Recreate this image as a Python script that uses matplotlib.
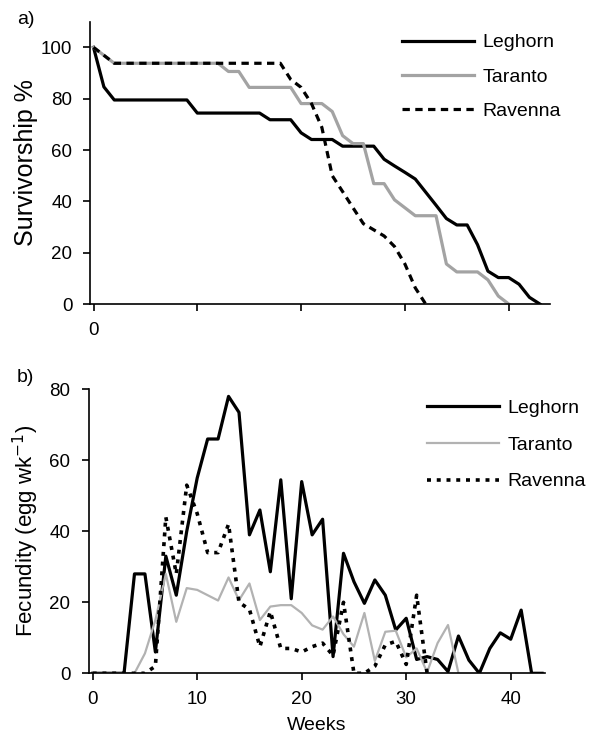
import matplotlib
matplotlib.use('Agg')
import matplotlib.pyplot as plt
import numpy as np

plt.rcParams['font.family'] = ['Liberation Sans', 'DejaVu Sans']

# ---------------- data ----------------
series_names = ['Leghorn', 'Taranto', 'Ravenna']

# a) survivorship (%) by week
surv_leghorn = [100, 84.6, 79.5, 79.5, 79.5, 79.5, 79.5, 79.5, 79.5, 79.5,
                74.4, 74.4, 74.4, 74.4, 74.4, 74.4, 74.4, 71.8, 71.8, 71.8,
                66.7, 64.1, 64.1, 64.1, 61.5, 61.5, 61.5, 61.5, 56.4, 53.8,
                51.3, 48.7, 43.6, 38.5, 33.3, 30.8, 30.8, 23.1, 12.8, 10.3,
                10.3, 7.7, 2.6, 0]
surv_taranto = [100, 96.9, 93.8, 93.8, 93.8, 93.8, 93.8, 93.8, 93.8, 93.8,
                93.8, 93.8, 93.8, 90.6, 90.6, 84.4, 84.4, 84.4, 84.4, 84.4,
                78.1, 78.1, 78.1, 75.0, 65.6, 62.5, 62.5, 46.9, 46.9, 40.6,
                37.5, 34.4, 34.4, 34.4, 15.6, 12.5, 12.5, 12.5, 9.4, 3.1, 0]
surv_ravenna = [100, 96.9, 93.8, 93.8, 93.8, 93.8, 93.8, 93.8, 93.8, 93.8,
                93.8, 93.8, 93.8, 93.8, 93.8, 93.8, 93.8, 93.8, 93.8, 87.5,
                84.4, 78.1, 68.8, 50.0, 43.8, 37.5, 31.3, 28.9, 26.5, 22.4,
                15.6, 6.3, 0]

# b) fecundity (eggs per week) by week
fec_leghorn = [0, 0, 0, 0, 28, 28, 6, 33, 22, 40,
               55, 66, 66, 78, 73.5, 39, 46, 28.6, 54.5, 21,
               54, 39, 43.4, 4.7, 33.8, 25.8, 19.7, 26.3, 22, 12.2,
               15.5, 3.9, 4.7, 3.9, 0.5, 10.5, 3.7, 0, 7, 11.4,
               9.6, 17.8, 0, 0]
fec_taranto = [0, 0, 0, 0, 0, 5.6, 15, 28, 14.5, 24,
               23.5, 22, 20.5, 27, 20.6, 25.3, 15, 18.8, 19.2, 19.2,
               17, 13.5, 12.3, 16, 11, 7.5, 17, 3.5, 11.7, 12,
               4.5, 7, 0.3, 8.5, 13.6, 0]
fec_ravenna = [0, 0, 0, 0, 0, 0, 2, 44, 28, 53,
               45, 34, 34, 42, 20, 18, 7.5, 17.4, 7, 7,
               6, 7.5, 8.5, 5, 20, 0, 0, 2, 8, 9,
               2.5, 22, 0]

x_ticks = [0, 10, 20, 30, 40]
x_ticklabels_a = ['0', '', '', '', '']
x_ticklabels_b = ['0', '10', '20', '30', '40']
y_ticks_a = [0, 20, 40, 60, 80, 100]
y_ticks_b = [0, 20, 40, 60, 80]

# ---------------- figure ----------------
fig = plt.figure(figsize=(5.9, 7.36), dpi=100)
W, H = 590, 736

def frac(l, r, t, b):
    return [l / W, 1 - b / H, (r - l) / W, (b - t) / H]

ax_a = fig.add_axes(frac(90.4, 550.2, 21.7, 304))
ax_b = fig.add_axes(frac(88.5, 545.2, 389.3, 673.3))

tick_fs = 13.5
leg_fs = 14

def style(ax):
    for s in ['top', 'right']:
        ax.spines[s].set_visible(False)
    for s in ['left', 'bottom']:
        ax.spines[s].set_linewidth(1.2)
        ax.spines[s].set_color('black')
    ax.tick_params(direction='out', length=5, width=1.2, labelsize=tick_fs,
                   pad=8, colors='black')

# panel a
ax_a.plot(np.arange(len(surv_leghorn)), surv_leghorn, color='black', lw=2.3,
          label=series_names[0])
ax_a.plot(np.arange(len(surv_taranto)), surv_taranto, color='#a3a3a3', lw=2.3,
          label=series_names[1])
ax_a.plot(np.arange(len(surv_ravenna)), surv_ravenna, color='black', lw=2.3,
          dashes=(2.3, 1.7), label=series_names[2])
ax_a.set_xlim(-0.3, 44)
ax_a.set_ylim(0, 110)
ax_a.set_xticks(x_ticks)
ax_a.set_xticklabels(x_ticklabels_a)
ax_a.set_yticks(y_ticks_a)
style(ax_a)
ax_a.set_ylabel('Survivorship %', fontsize=18, labelpad=2)
ax_a.legend(frameon=False, loc='upper left', bbox_to_anchor=(0.677, 0.957),
            fontsize=leg_fs, handlelength=3.7, handletextpad=0.45,
            labelspacing=0.85, borderpad=0, borderaxespad=0)

# panel b
ax_b.plot(np.arange(len(fec_leghorn)), fec_leghorn, color='black', lw=2.3,
          label=series_names[0])
ax_b.plot(np.arange(len(fec_taranto)), fec_taranto, color='#b2b2b2', lw=1.6,
          label=series_names[1])
ax_b.plot(np.arange(len(fec_ravenna)), fec_ravenna, color='black', lw=2.6,
          dashes=(1.1, 1.6), label=series_names[2])
ax_b.set_xlim(-0.4, 43.3)
ax_b.set_ylim(0, 80)
ax_b.set_xticks(x_ticks)
ax_b.set_xticklabels(x_ticklabels_b)
ax_b.set_yticks(y_ticks_b)
style(ax_b)
ax_b.set_ylabel('Fecundity (egg wk$^{-1}$)', fontsize=16, labelpad=6)
ax_b.set_xlabel('Weeks', fontsize=leg_fs, labelpad=6)
ax_b.legend(frameon=False, loc='upper left', bbox_to_anchor=(0.7405, 0.964),
            fontsize=leg_fs, handlelength=3.7, handletextpad=0.45,
            labelspacing=0.98, borderpad=0, borderaxespad=0)

fig.text(17 / W, 1 - 19 / H, 'a)', fontsize=leg_fs, va='center', ha='left')
fig.text(17 / W, 1 - 378 / H, 'b)', fontsize=leg_fs, va='center', ha='left')

fig.savefig('out.png', dpi=100)
